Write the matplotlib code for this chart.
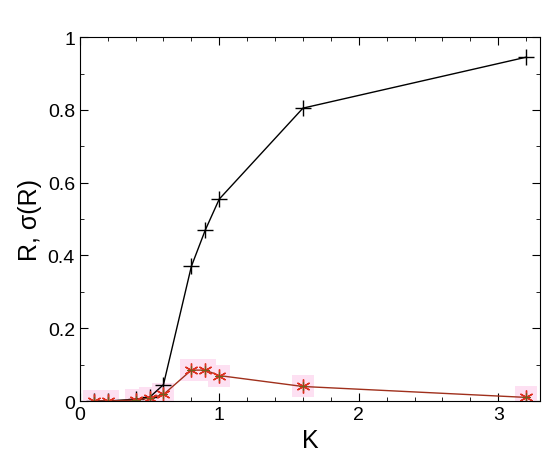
import matplotlib
matplotlib.use("Agg")
import matplotlib.pyplot as plt
from matplotlib.ticker import MultipleLocator

K = [0.1, 0.2, 0.4, 0.5, 0.6, 0.8, 0.9, 1.0, 1.6, 3.2]
R = [0.0, 0.0, 0.005, 0.01, 0.045, 0.37, 0.47, 0.555, 0.805, 0.945]
sigma = [0.0, 0.0, 0.003, 0.008, 0.018, 0.085, 0.085, 0.07, 0.04, 0.01]

plt.rcParams['font.family'] = ['Liberation Sans', 'DejaVu Sans']
fig = plt.figure(figsize=(5.5, 4.6), dpi=100)
ax = fig.add_axes([0.145, 0.126, 0.837, 0.791])
ax.plot(K, sigma, 's', color='#fde0f2', ms=16, mew=0)
ax.plot(K, R, '-+', color='black', lw=1, ms=11, mew=1)
ax.plot(K, sigma, '-', color='#a0301c', lw=1)
ax.plot(K, sigma, ls='none', marker=(6, 2, 0), color='#e03020', ms=10, mew=1)
ax.plot(K, sigma, ls='none', marker=(4, 2, 0), color='#706020', ms=6, mew=0.8)
ax.set_xlim(0, 3.3)
ax.set_ylim(0, 1)
ax.xaxis.set_major_locator(MultipleLocator(1))
ax.xaxis.set_minor_locator(MultipleLocator(0.2))
ax.yaxis.set_major_locator(MultipleLocator(0.2))
ax.yaxis.set_minor_locator(MultipleLocator(0.1))
ax.tick_params(which='both', direction='in', top=True, right=True, labelsize=14)
ax.tick_params(which='major', length=6)
ax.tick_params(which='minor', length=3)
ax.xaxis.set_major_formatter(plt.FuncFormatter(lambda v, p: f"{v:g}"))
ax.yaxis.set_major_formatter(plt.FuncFormatter(lambda v, p: f"{v:g}"))
ax.set_xlabel('K', fontsize=18)
ax.set_ylabel('R, σ(R)', fontsize=18)
fig.savefig('out.png', dpi=100)
